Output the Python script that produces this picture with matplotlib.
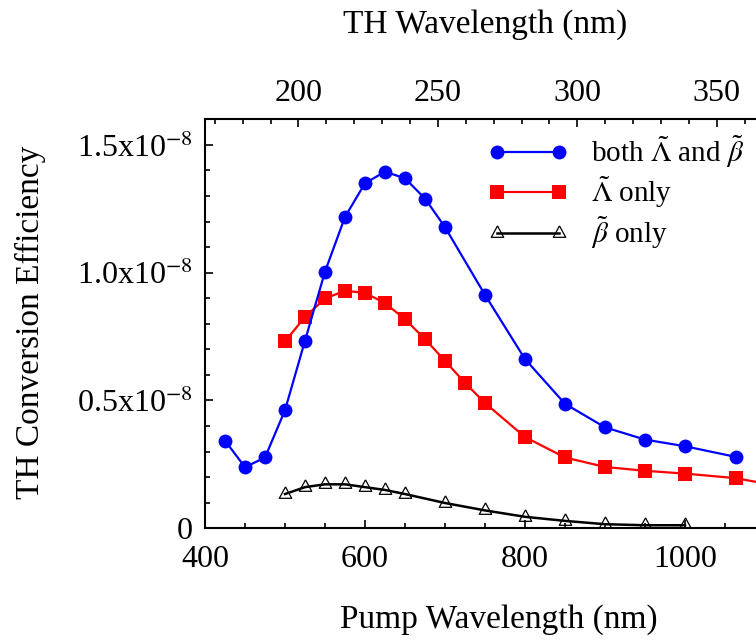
import matplotlib
matplotlib.use('Agg')
import matplotlib.pyplot as plt
import matplotlib.ticker as ticker

plt.rcParams['font.family'] = ['Liberation Serif', 'DejaVu Serif']
plt.rcParams['mathtext.fontset'] = 'stix'

# pump wavelength (nm) and TH conversion efficiency (units of 1e-8)
x_both = [425, 450, 475, 500, 525, 550, 575, 600, 625, 650, 675, 700,
          750, 800, 850, 900, 950, 1000, 1064]
eff_both = [0.343, 0.239, 0.277, 0.462, 0.734, 1.004, 1.218, 1.350, 1.395,
            1.369, 1.290, 1.178, 0.913, 0.662, 0.487, 0.395, 0.347, 0.321, 0.279]

x_lam = [500, 525, 550, 575, 600, 625, 650, 675, 700, 725, 750, 800, 850,
         900, 950, 1000, 1064, 1100]
eff_lam = [0.731, 0.827, 0.899, 0.929, 0.921, 0.881, 0.818, 0.740, 0.655,
           0.569, 0.490, 0.357, 0.277, 0.240, 0.225, 0.214, 0.196, 0.175]

x_beta = [500, 525, 550, 575, 600, 625, 650, 700, 750, 800, 850, 900, 950, 1000]
eff_beta = [0.134, 0.161, 0.172, 0.172, 0.161, 0.150, 0.134, 0.099, 0.070,
            0.045, 0.029, 0.016, 0.012, 0.012]

labels = [r'both $\tilde{\Lambda}$ and $\tilde{\beta}$',
          r'$\tilde{\Lambda}$ only',
          r'$\tilde{\beta}$ only']

y_ticks = [0, 0.5, 1.0, 1.5]
y_ticklabels = ['0', r'0.5x10$^{-8}$', r'1.0x10$^{-8}$', r'1.5x10$^{-8}$']
top_ticks = [200, 250, 300, 350]

scale = 1e-8

W, H = 756, 641
fig = plt.figure(figsize=(W / 100, H / 100), dpi=100)
# axes extends slightly past the right edge of the figure (as in the reference)
ax = fig.add_axes([205 / W, (H - 528.3) / H, 560 / W, 409 / H])

# triangle marker centred on its centroid
tri = [(0, 8), (-6.5, -4), (6.5, -4), (0, 8)]

ax.plot(x_both, [v * scale for v in eff_both], color='#0000ff', lw=1.6,
        marker='o', markersize=10, markeredgewidth=0, label=labels[0], zorder=4)
ax.plot(x_lam, [v * scale for v in eff_lam], color='#ff0000', lw=1.6,
        marker='s', markersize=9.5, markeredgewidth=0, label=labels[1], zorder=3)
ax.plot(x_beta, [v * scale for v in eff_beta], color='black', lw=1.8,
        marker=tri, markersize=11, markerfacecolor='none',
        markeredgecolor='black', markeredgewidth=0.9, label=labels[2], zorder=5)

ax.set_xlim(400, 1100)
ax.set_ylim(0, 1.6 * scale)

ax.xaxis.set_major_locator(ticker.FixedLocator([400, 600, 800, 1000]))
ax.xaxis.set_minor_locator(ticker.MultipleLocator(50))
ax.set_yticks([v * scale for v in y_ticks])
ax.set_yticklabels(y_ticklabels)
ax.yaxis.set_minor_locator(ticker.MultipleLocator(0.1 * scale))

ax.tick_params(which='both', direction='in', width=1.2, labelsize=23)
ax.tick_params(which='major', length=6)
ax.tick_params(which='minor', length=3.5)
ax.tick_params(axis='x', pad=12)
ax.tick_params(axis='y', pad=9)
ax.tick_params(right=False, top=False)
for s in ax.spines.values():
    s.set_linewidth(1.5)
ax.spines['top'].set_visible(False)

# top axis: TH wavelength
top = ax.twiny()
top.set_xlim(166.5, 367.3)
top.xaxis.set_major_locator(ticker.FixedLocator(top_ticks))
top.xaxis.set_minor_locator(ticker.MultipleLocator(10))
top.tick_params(which='both', direction='in', width=1.2, labelsize=23, pad=8)
top.tick_params(which='major', length=6)
top.tick_params(which='minor', length=3.5)
for s in top.spines.values():
    s.set_linewidth(1.5)
top.spines['bottom'].set_visible(False)
top.spines['left'].set_visible(False)

leg = ax.legend(loc='upper left', bbox_to_anchor=(0.505, 0.965), frameon=False,
                fontsize=21, numpoints=2, handlelength=2.75, handletextpad=0.8,
                labelspacing=0.15, borderpad=0, borderaxespad=0)

fig.text(485 / W, (H - 33) / H, 'TH Wavelength (nm)', fontsize=24,
         ha='center', va='baseline')
fig.text(499 / W, (H - 628) / H, 'Pump Wavelength (nm)', fontsize=24,
         ha='center', va='baseline')
fig.text(30 / W, (H - 322) / H, 'TH Conversion Efficiency', fontsize=24,
         rotation=90, ha='center', va='center')

fig.savefig('out.png', dpi=100)
plt.close(fig)
